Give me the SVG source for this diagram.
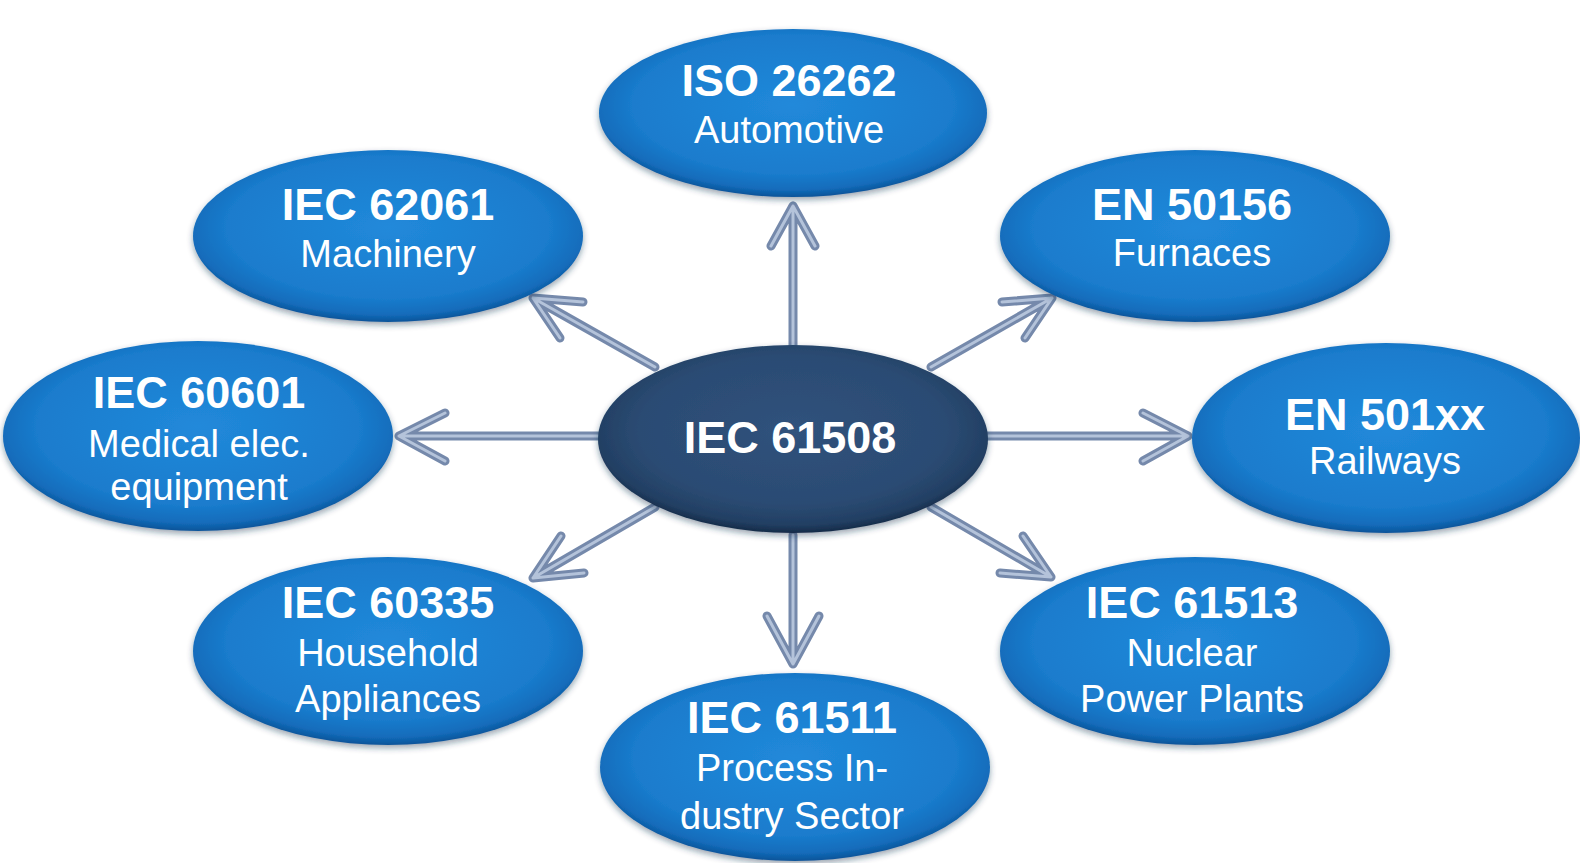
<svg xmlns="http://www.w3.org/2000/svg" width="1580" height="863" viewBox="0 0 1580 863">
<defs>
<radialGradient id="gBlue" cx="50%" cy="45%" r="55%">
<stop offset="0%" stop-color="#2189da"/>
<stop offset="75%" stop-color="#1a7ccd"/>
<stop offset="92%" stop-color="#136cbb"/>
<stop offset="100%" stop-color="#0c5499"/>
</radialGradient>
<radialGradient id="gNavy" cx="50%" cy="45%" r="55%">
<stop offset="0%" stop-color="#30527c"/>
<stop offset="72%" stop-color="#2b4b73"/>
<stop offset="92%" stop-color="#223f63"/>
<stop offset="100%" stop-color="#152b48"/>
</radialGradient>
<filter id="sh" x="-10%" y="-10%" width="120%" height="130%">
<feDropShadow dx="0" dy="3" stdDeviation="3" flood-color="#1d3350" flood-opacity="0.45"/>
</filter>
</defs>
<style>
.n{fill:url(#gBlue);filter:url(#sh)}
.c{fill:url(#gNavy);filter:url(#sh)}
.t{font-family:"Liberation Sans",Arial,sans-serif;font-weight:bold;font-size:45px;fill:#fff;text-anchor:middle}
.s{font-family:"Liberation Sans",Arial,sans-serif;font-size:38px;fill:#fff;text-anchor:middle}
.a{fill:none;stroke:#7589ab;stroke-width:9;stroke-linecap:round;stroke-linejoin:round}
.h{fill:none;stroke:#b4c3da;stroke-width:3;stroke-linecap:round;stroke-linejoin:round}
</style>
<rect width="1580" height="863" fill="#fff"/>
<g id="connectors">
<g class="a">
<path d="M793 345 V206 M771 246 L793 206 L815 246"/>
<path d="M655 367 L533 298 M583 302 L533 298 L560 338"/>
<path d="M931 367 L1052 298 M1002 302 L1052 298 L1025 338"/>
<path d="M600 436 H399 M445 413 L399 436 L445 461"/>
<path d="M985 436 H1188 M1143 413 L1188 436 L1143 461"/>
<path d="M655 507 L533 578 M584 573 L533 578 L561 536"/>
<path d="M931 507 L1051 577 M1000 573 L1051 577 L1023 536"/>
<path d="M793 535 V664 M767 616 L793 664 L819 616"/>
</g>
<g class="h">
<path d="M793 345 V206 M771 246 L793 206 L815 246"/>
<path d="M655 367 L533 298 M583 302 L533 298 L560 338"/>
<path d="M931 367 L1052 298 M1002 302 L1052 298 L1025 338"/>
<path d="M600 436 H399 M445 413 L399 436 L445 461"/>
<path d="M985 436 H1188 M1143 413 L1188 436 L1143 461"/>
<path d="M655 507 L533 578 M584 573 L533 578 L561 536"/>
<path d="M931 507 L1051 577 M1000 573 L1051 577 L1023 536"/>
<path d="M793 535 V664 M767 616 L793 664 L819 616"/>
</g>
</g>
<g id="iso26262">
<ellipse class="n" cx="793" cy="113" rx="194" ry="84"/>
<text class="t" x="789" y="96">ISO 26262</text>
<text class="s" x="789" y="143">Automotive</text>
</g>
<g id="iec62061">
<ellipse class="n" cx="388" cy="236" rx="195" ry="86"/>
<text class="t" x="388" y="220">IEC 62061</text>
<text class="s" x="388" y="267">Machinery</text>
</g>
<g id="en50156">
<ellipse class="n" cx="1195" cy="236" rx="195" ry="86"/>
<text class="t" x="1192" y="220">EN 50156</text>
<text class="s" x="1192" y="266">Furnaces</text>
</g>
<g id="iec60601">
<ellipse class="n" cx="198" cy="436" rx="195" ry="95"/>
<text class="t" x="199" y="408">IEC 60601</text>
<text class="s" x="199" y="457">Medical elec.</text>
<text class="s" x="199" y="500">equipment</text>
</g>
<g id="iec61508">
<ellipse class="c" cx="793" cy="439" rx="195" ry="94"/>
<text class="t" x="790" y="453">IEC 61508</text>
</g>
<g id="en501xx">
<ellipse class="n" cx="1386" cy="438" rx="194" ry="95"/>
<text class="t" x="1385" y="430">EN 501xx</text>
<text class="s" x="1385" y="474">Railways</text>
</g>
<g id="iec60335">
<ellipse class="n" cx="388" cy="651" rx="195" ry="94"/>
<text class="t" x="388" y="618">IEC 60335</text>
<text class="s" x="388" y="666">Household</text>
<text class="s" x="388" y="712">Appliances</text>
</g>
<g id="iec61513">
<ellipse class="n" cx="1195" cy="651" rx="195" ry="94"/>
<text class="t" x="1192" y="618">IEC 61513</text>
<text class="s" x="1192" y="666">Nuclear</text>
<text class="s" x="1192" y="712">Power Plants</text>
</g>
<g id="iec61511">
<ellipse class="n" cx="795" cy="767" rx="195" ry="94"/>
<text class="t" x="792" y="733">IEC 61511</text>
<text class="s" x="792" y="781">Process In-</text>
<text class="s" x="792" y="829">dustry Sector</text>
</g>
</svg>
